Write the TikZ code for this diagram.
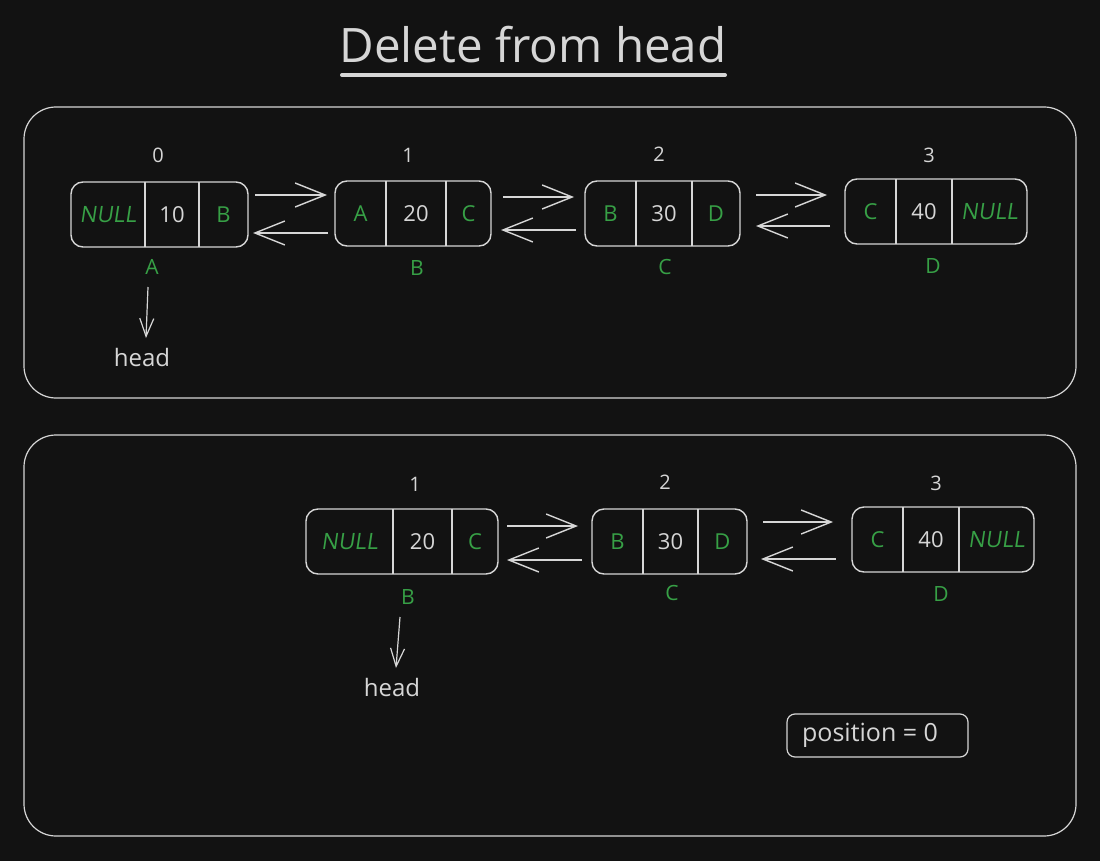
\documentclass[tikz,border=0pt]{standalone}
\usepackage{fontspec}
\setmainfont{Open Sans}
\newfontfamily\nulfont{Open Sans}[FakeSlant=0.15]
\usetikzlibrary{arrows.meta}
\definecolor{bg}{HTML}{121212}
\definecolor{ink}{HTML}{D6D6D6}
\definecolor{grn}{HTML}{37A046}
\tikzset{
  frame/.style={draw=ink, line width=1.2pt, rounded corners=32pt},
  cell/.style={draw=ink, line width=1.4pt, rounded corners=12pt, inner sep=0pt},
  divline/.style={draw=ink, line width=1.3pt},
  arr/.style={draw=ink, line width=1.4pt, -{Straight Barb[length=30pt,width=24pt,line width=1.4pt]}},
  headarr/.style={draw=ink, line width=1.2pt, -{Straight Barb[length=18pt,width=14pt,line width=1.2pt]}},
  val/.style={text=ink, font=\fontsize{22}{26}\selectfont, inner sep=0pt},
  ptr/.style={text=grn, font=\fontsize{22}{26}\selectfont, inner sep=0pt},
  nul/.style={text=grn, font=\fontsize{22.5}{26}\selectfont\nulfont, inner sep=0pt},
  idx/.style={text=ink, font=\fontsize{20}{24}\selectfont, inner sep=0pt},
  lbl/.style={text=grn, font=\fontsize{21}{25}\selectfont, inner sep=0pt},
  hd/.style={text=ink, font=\fontsize{24}{28}\selectfont, inner sep=0pt},
}
\newcommand\lbox[7]{%
  \node[cell, minimum width={#4-#2}, minimum height={#5-#3}] (#1) at ({(#2+#4)/2},{(#3+#5)/2}) {};
  \draw[divline] (#6,#3) -- (#6,#5);
  \draw[divline] (#7,#3) -- (#7,#5);
  \coordinate (#1-l) at ({(#2+#6)/2},{(#3+#5)/2});
  \coordinate (#1-m) at ({(#6+#7)/2},{(#3+#5)/2});
  \coordinate (#1-r) at ({(#7+#4)/2},{(#3+#5)/2});
}
\begin{document}
\begin{tikzpicture}[x=1pt,y=-1pt]
\fill[bg] (0,0) rectangle (1100,861);
\useasboundingbox (0,0) rectangle (1100,861);

% title
\node[text=ink, font=\fontsize{47.5}{54}\selectfont, inner sep=0pt] (title) at (533,45) {Delete from head};
\coordinate (ul1) at (342,75);
\coordinate (ul2) at (725,75);
\draw[ink, line width=4pt, line cap=round] (ul1) -- (ul2);

% frames
\draw[frame] (24,107) rectangle (1076,398);
\draw[frame] (24,435) rectangle (1076,836);

% ---- top list ----
\lbox{A}{71}{182}{248}{247}{145}{199}
\lbox{B}{335}{181}{491}{246}{386}{446}
\lbox{C}{585}{181}{740}{246}{636}{692}
\lbox{D}{845}{179}{1027}{244}{896}{952}

\node[nul] (At1) at (A-l) {NULL};
\node[val] (At2) at (A-m) {10};
\node[ptr] (At3) at (A-r) {B};
\node[ptr] (Bt1) at (B-l) {A};
\node[val] (Bt2) at (B-m) {20};
\node[ptr] (Bt3) at (B-r) {C};
\node[ptr] (Ct1) at (C-l) {B};
\node[val] (Ct2) at (C-m) {30};
\node[ptr] (Ct3) at (C-r) {D};
\node[ptr] (Dt1) at (D-l) {C};
\node[val] (Dt2) at (D-m) {40};
\node[nul] (Dt3) at (D-r) {NULL};

\node[idx] (Ai) at (158,155) {0};
\node[idx] (Bi) at (408,155) {1};
\node[idx] (Ci) at (659,154) {2};
\node[idx] (Di) at (929,155) {3};

\node[lbl] (Al) at (152,267) {A};
\node[lbl] (Bl) at (417,268) {B};
\node[lbl] (Cl) at (665,267) {C};
\node[lbl] (Dl) at (933,266) {D};

\coordinate (ab1) at (255,195); \coordinate (ab2) at (327,195);
\coordinate (ba1) at (328,233); \coordinate (ba2) at (253,233);
\coordinate (bc1) at (503,197); \coordinate (bc2) at (574,197);
\coordinate (cb1) at (576,230); \coordinate (cb2) at (501,230);
\coordinate (cd1) at (756,195); \coordinate (cd2) at (827,195);
\coordinate (dc1) at (830,226); \coordinate (dc2) at (756,226);
\draw[arr] (ab1) -- (ab2);
\draw[arr] (ba1) -- (ba2);
\draw[arr] (bc1) -- (bc2);
\draw[arr] (cb1) -- (cb2);
\draw[arr] (cd1) -- (cd2);
\draw[arr] (dc1) -- (dc2);

\node[hd] (head1) at (142,357) {head};
\coordinate (h1a) at (148,287);
\coordinate (h1b) at (146,338);
\draw[headarr] (h1a) -- (h1b);

% ---- bottom list ----
\lbox{B2}{306}{509}{498}{574}{393}{452}
\lbox{C2}{592}{509}{747}{574}{643}{698}
\lbox{D2}{852}{507}{1034}{572}{903}{959}

\node[nul] (B2t1) at (B2-l) {NULL};
\node[val] (B2t2) at (B2-m) {20};
\node[ptr] (B2t3) at (B2-r) {C};
\node[ptr] (C2t1) at (C2-l) {B};
\node[val] (C2t2) at (C2-m) {30};
\node[ptr] (C2t3) at (C2-r) {D};
\node[ptr] (D2t1) at (D2-l) {C};
\node[val] (D2t2) at (D2-m) {40};
\node[nul] (D2t3) at (D2-r) {NULL};

\node[idx] (B2i) at (415,484) {1};
\node[idx] (C2i) at (665,482) {2};
\node[idx] (D2i) at (936,483) {3};

\node[lbl] (B2l) at (408,597) {B};
\node[lbl] (C2l) at (672,593) {C};
\node[lbl] (D2l) at (941,594) {D};

\coordinate (bc3) at (507,526); \coordinate (bc4) at (578,526);
\coordinate (cb3) at (582,560); \coordinate (cb4) at (507,560);
\coordinate (cd3) at (763,522); \coordinate (cd4) at (833,522);
\coordinate (dc3) at (836,559); \coordinate (dc4) at (761,559);
\draw[arr] (bc3) -- (bc4);
\draw[arr] (cb3) -- (cb4);
\draw[arr] (cd3) -- (cd4);
\draw[arr] (dc3) -- (dc4);

\node[hd] (head2) at (392,687) {head};
\coordinate (h2a) at (400,617);
\coordinate (h2b) at (396,668);
\draw[headarr] (h2a) -- (h2b);

\node[draw=ink, line width=1.2pt, rounded corners=8pt, minimum width=181pt, minimum height=43pt] (pos) at (877.5,735.5) {};
\node[text=ink, font=\fontsize{25}{29}\selectfont, inner sep=0pt] (postxt) at (870,735) {position = 0};
\end{tikzpicture}
\end{document}
